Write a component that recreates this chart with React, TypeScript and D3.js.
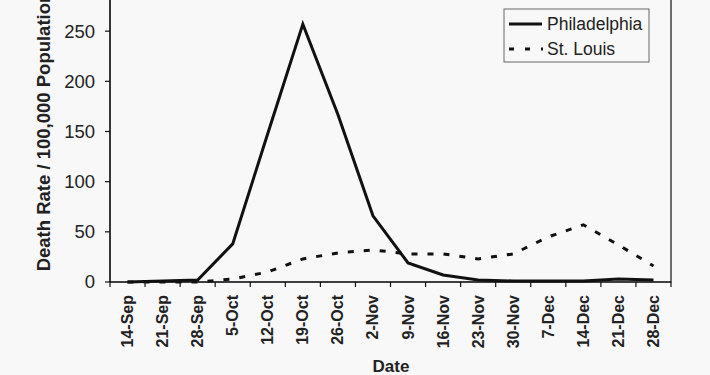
import React from "react";
import * as d3 from "d3";

const categories = ["14-Sep","21-Sep","28-Sep","5-Oct","12-Oct","19-Oct","26-Oct","2-Nov","9-Nov","16-Nov","23-Nov","30-Nov","7-Dec","14-Dec","21-Dec","28-Dec"];
const philadelphia = [0, 1, 2, 38, 148, 257, 167, 66, 19, 7, 2, 1, 1, 1, 3, 2];
const stLouis = [0, 0, 0, 3, 10, 23, 29, 32, 28, 28, 23, 28, 45, 57, 37, 16];
const yTicks = [0, 50, 100, 150, 200, 250];

const W = 710, H = 375;
const left = 110, right = 671, bottom = 282;
const FONT = "'Liberation Sans', Arial, sans-serif";

export default function App() {
  const x = d3.scaleBand<string>().domain(categories).range([left, right]).padding(0);
  const y = d3.scaleLinear().domain([0, 300]).range([bottom, bottom - 301]);
  const cx = (c: string) => (x(c) as number) + x.bandwidth() / 2;
  const line = d3.line<number>().x((_, i) => cx(categories[i])).y(d => y(d));
  const top = y(300);
  return (
    <svg width={W} height={H} style={{ position: "absolute", left: 0, top: 0, display: "block", background: "#f8f8f8" }}>
      <rect x={0} y={0} width={W} height={H} fill="#f8f8f8" />
      <rect x={left} y={top} width={right - left} height={bottom - top} fill="none" stroke="#111" strokeWidth={1.2} />
      {/* y axis */}
      <line x1={left} x2={left} y1={top} y2={bottom} stroke="#111" strokeWidth={1.2} />
      {yTicks.map(t => (
        <g key={t}>
          <line x1={left - 5} x2={left} y1={y(t)} y2={y(t)} stroke="#111" strokeWidth={1.2} />
          <text x={left - 15} y={y(t)} dy="0.35em" textAnchor="end" fontFamily={FONT} fontSize={18.5} fill="#222">{t}</text>
        </g>
      ))}
      {/* x axis */}
      <line x1={left} x2={right} y1={bottom} y2={bottom} stroke="#111" strokeWidth={1.2} />
      {categories.map((c, i) => (
        <line key={"t" + i} x1={x(c) as number} x2={x(c) as number} y1={bottom} y2={bottom + 5} stroke="#111" strokeWidth={1.2} />
      ))}
      <line x1={right} x2={right} y1={bottom} y2={bottom + 5} stroke="#111" strokeWidth={1.2} />
      {categories.map(c => (
        <text key={c} transform={`translate(${cx(c) + 5.5},${bottom + 13}) rotate(-90)`} textAnchor="end" fontFamily={FONT} fontWeight="bold" fontSize={16} fill="#222">{c}</text>
      ))}
      <text x={391} y={372} textAnchor="middle" fontFamily={FONT} fontWeight="bold" fontSize={17} fill="#222">Date</text>
      <text transform={`translate(50,${(top + bottom) / 2}) rotate(-90)`} textAnchor="middle" fontFamily={FONT} fontWeight="bold" fontSize={18.5} fill="#222">Death Rate / 100,000 Population</text>
      {/* series */}
      <path d={line(stLouis) || ""} fill="none" stroke="#111" strokeWidth={3} strokeDasharray="6,10" />
      <path d={line(philadelphia) || ""} fill="none" stroke="#111" strokeWidth={3} strokeLinejoin="miter" />
      {/* legend */}
      <rect x={504} y={9} width={145} height={53} fill="#f8f8f8" stroke="#666" strokeWidth={1} />
      <line x1={509} x2={542} y1={24} y2={24} stroke="#111" strokeWidth={3} />
      <text x={547} y={24} dy="0.35em" fontFamily={FONT} fontSize={17.5} fill="#222">Philadelphia</text>
      <line x1={509} x2={543} y1={49} y2={49} stroke="#111" strokeWidth={3} strokeDasharray="5,11" />
      <text x={547} y={49} dy="0.35em" fontFamily={FONT} fontSize={17.5} fill="#222">St. Louis</text>
    </svg>
  );
}
